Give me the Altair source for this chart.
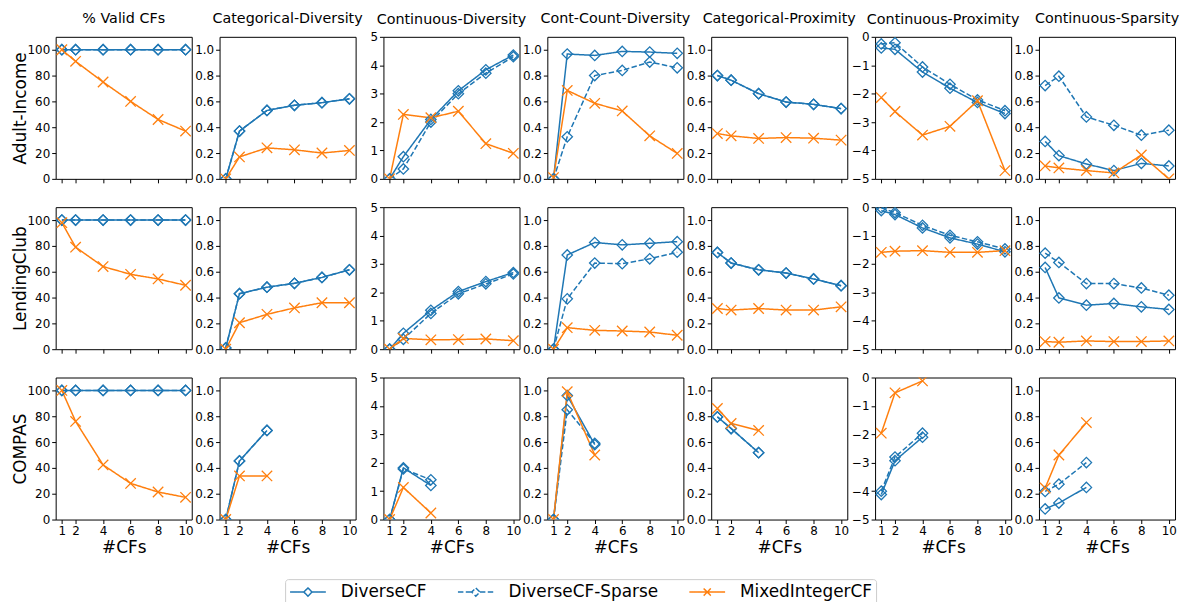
import altair as alt
import pandas as pd

methods = ["DiverseCF", "DiverseCF-Sparse", "MixedIntegerCF"]
datasets = ["Adult-Income", "LendingClub", "COMPAS"]
metrics = ["% Valid CFs", "Categorical-Diversity", "Continuous-Diversity",
           "Cont-Count-Diversity", "Categorical-Proximity",
           "Continuous-Proximity", "Continuous-Sparsity"]
num_cfs = [1, 2, 4, 6, 8, 10]
num_cfs_compas = [1, 2, 4]

# ---- Adult-Income ----
adult_diverse = {
    "% Valid CFs": [100, 100, 100, 100, 100, 100],
    "Categorical-Diversity": [0.0, 0.37, 0.53, 0.57, 0.59, 0.62],
    "Continuous-Diversity": [0.0, 0.78, 2.09, 3.1, 3.84, 4.36],
    "Cont-Count-Diversity": [0.0, 0.967, 0.956, 0.987, 0.982, 0.972],
    "Categorical-Proximity": [0.80, 0.764, 0.66, 0.595, 0.577, 0.544],
    "Continuous-Proximity": [-0.39, -0.44, -1.24, -1.81, -2.31, -2.7],
    "Continuous-Sparsity": [0.29, 0.18, 0.115, 0.064, 0.12, 0.10],
}
adult_sparse = {
    "% Valid CFs": [100, 100, 100, 100, 100, 100],
    "Categorical-Diversity": [0.0, 0.37, 0.53, 0.57, 0.59, 0.62],
    "Continuous-Diversity": [0.0, 0.35, 2.0, 3.0, 3.72, 4.3],
    "Cont-Count-Diversity": [0.0, 0.326, 0.80, 0.84, 0.905, 0.86],
    "Categorical-Proximity": [0.80, 0.764, 0.66, 0.595, 0.577, 0.544],
    "Continuous-Proximity": [-0.25, -0.21, -1.06, -1.67, -2.22, -2.6],
    "Continuous-Sparsity": [0.723, 0.795, 0.48, 0.415, 0.338, 0.377],
}
adult_mip = {
    "% Valid CFs": [100, 91, 75, 60, 46, 37],
    "Categorical-Diversity": [0.0, 0.17, 0.24, 0.225, 0.20, 0.22],
    "Continuous-Diversity": [0.0, 2.27, 2.15, 2.38, 1.24, 0.9],
    "Cont-Count-Diversity": [0.01, 0.685, 0.585, 0.526, 0.333, 0.197],
    "Categorical-Proximity": [0.351, 0.333, 0.313, 0.32, 0.315, 0.30],
    "Continuous-Proximity": [-2.14, -2.63, -3.46, -3.15, -2.25, -4.71],
    "Continuous-Sparsity": [0.10, 0.085, 0.064, 0.046, 0.185, 0.0],
}

# ---- LendingClub ----
lending_diverse = {
    "% Valid CFs": [100, 100, 100, 100, 100, 100],
    "Categorical-Diversity": [0.01, 0.43, 0.48, 0.51, 0.556, 0.615],
    "Continuous-Diversity": [0.0, 0.56, 1.37, 2.03, 2.38, 2.7],
    "Cont-Count-Diversity": [0.0, 0.73, 0.826, 0.808, 0.82, 0.833],
    "Categorical-Proximity": [0.749, 0.667, 0.615, 0.59, 0.544, 0.492],
    "Continuous-Proximity": [-0.12, -0.26, -0.73, -1.08, -1.30, -1.57],
    "Continuous-Sparsity": [0.633, 0.397, 0.341, 0.354, 0.328, 0.308],
}
lending_sparse = {
    "% Valid CFs": [100, 100, 100, 100, 100, 100],
    "Categorical-Diversity": [0.01, 0.43, 0.48, 0.51, 0.556, 0.615],
    "Continuous-Diversity": [0.0, 0.35, 1.26, 1.95, 2.3, 2.65],
    "Cont-Count-Diversity": [0.0, 0.39, 0.667, 0.662, 0.70, 0.751],
    "Categorical-Proximity": [0.749, 0.667, 0.615, 0.59, 0.544, 0.492],
    "Continuous-Proximity": [-0.02, -0.19, -0.64, -0.99, -1.22, -1.47],
    "Continuous-Sparsity": [0.744, 0.672, 0.508, 0.508, 0.474, 0.418],
}
lending_mip = {
    "% Valid CFs": [98, 79, 64, 58, 54.4, 49.5],
    "Categorical-Diversity": [0.0, 0.205, 0.27, 0.32, 0.36, 0.36],
    "Continuous-Diversity": [0.0, 0.38, 0.33, 0.34, 0.36, 0.30],
    "Cont-Count-Diversity": [0.0, 0.167, 0.146, 0.141, 0.133, 0.108],
    "Categorical-Proximity": [0.315, 0.303, 0.315, 0.303, 0.303, 0.328],
    "Continuous-Proximity": [-1.59, -1.55, -1.53, -1.59, -1.59, -1.53],
    "Continuous-Sparsity": [0.059, 0.054, 0.064, 0.059, 0.059, 0.064],
}

# ---- COMPAS ----
compas_diverse = {
    "% Valid CFs": [100, 100, 100, 100, 100, 100],
    "Categorical-Diversity": [0.0, 0.454, 0.69],
    "Continuous-Diversity": [0.0, 1.82, 1.2],
    "Cont-Count-Diversity": [0.0, 0.96, 0.58],
    "Categorical-Proximity": [0.795, 0.705, 0.518],
    "Continuous-Proximity": [-4.12, -2.93, -2.10],
    "Continuous-Sparsity": [0.082, 0.128, 0.249],
}
compas_sparse = {
    "% Valid CFs": [100, 100, 100, 100, 100, 100],
    "Categorical-Diversity": [0.0, 0.454, 0.69],
    "Continuous-Diversity": [0.0, 1.78, 1.4],
    "Cont-Count-Diversity": [0.0, 0.85, 0.59],
    "Categorical-Proximity": [0.795, 0.705, 0.518],
    "Continuous-Proximity": [-4.0, -2.8, -1.96],
    "Continuous-Sparsity": [0.218, 0.274, 0.441],
}
compas_mip = {
    "% Valid CFs": [100, 76, 42.3, 28, 21.3, 17.2],
    "Categorical-Diversity": [0.0, 0.338, 0.338],
    "Continuous-Diversity": [0.0, 1.13, 0.23],
    "Cont-Count-Diversity": [0.0, 0.99, 0.50],
    "Categorical-Proximity": [0.86, 0.744, 0.69],
    "Continuous-Proximity": [-1.96, -0.54, -0.12],
    "Continuous-Sparsity": [0.244, 0.5, 0.751],
}

results = {
    "Adult-Income": [adult_diverse, adult_sparse, adult_mip],
    "LendingClub": [lending_diverse, lending_sparse, lending_mip],
    "COMPAS": [compas_diverse, compas_sparse, compas_mip],
}

y_domains = {
    "% Valid CFs": [0, 110],
    "Categorical-Diversity": [0, 1.1],
    "Continuous-Diversity": [0, 5],
    "Cont-Count-Diversity": [0, 1.1],
    "Categorical-Proximity": [0, 1.1],
    "Continuous-Proximity": [-5, 0],
    "Continuous-Sparsity": [0, 1.1],
}
y_ticks = {
    "% Valid CFs": [0, 20, 40, 60, 80, 100],
    "Categorical-Diversity": [0, 0.2, 0.4, 0.6, 0.8, 1.0],
    "Continuous-Diversity": [0, 1, 2, 3, 4, 5],
    "Cont-Count-Diversity": [0, 0.2, 0.4, 0.6, 0.8, 1.0],
    "Categorical-Proximity": [0, 0.2, 0.4, 0.6, 0.8, 1.0],
    "Continuous-Proximity": [-5, -4, -3, -2, -1, 0],
    "Continuous-Sparsity": [0, 0.2, 0.4, 0.6, 0.8, 1.0],
}
y_formats = {
    "% Valid CFs": "d",
    "Categorical-Diversity": ".1f",
    "Continuous-Diversity": "d",
    "Cont-Count-Diversity": ".1f",
    "Categorical-Proximity": ".1f",
    "Continuous-Proximity": "d",
    "Continuous-Sparsity": ".1f",
}

colors = ["#1f77b4", "#1f77b4", "#ff7f0e"]
dashes = [[1, 0], [5.5, 2.4], [1, 0]]
X_PATH = "M-1,-1L1,1M-1,1L1,-1"
LEG_DIAMOND = "M-1,0L-0.23,0M0.23,0L1,0M0,-0.23L0.23,0L0,0.23L-0.23,0Z"
LEG_X = "M-1,0L1,0M-0.2,-0.2L0.2,0.2M-0.2,0.2L0.2,-0.2"

rows = []
for ds in datasets:
    for m, table in zip(methods, results[ds]):
        for metric in metrics:
            vals = table[metric]
            xs = num_cfs if len(vals) == len(num_cfs) else num_cfs_compas
            for xv, v in zip(xs, vals):
                rows.append({"dataset": ds, "metric": metric, "method": m,
                             "x": xv, "value": v})
df = pd.DataFrame(rows)

legend_df = pd.DataFrame({"method": methods, "x": [-50] * 3, "value": [0] * 3})

W, H = 137, 143
x_scale = alt.Scale(domain=[0.55, 10.45], nice=False, zero=False)


def make_panel(r, c):
    ds, metric = datasets[r], metrics[c]
    sub = df[(df.dataset == ds) & (df.metric == metric)]
    x_axis = alt.Axis(values=num_cfs, labels=(r == 2),
                      title="#CFs" if r == 2 else None, labelFlush=False,
                      labelOverlap=False, titlePadding=3)
    y_kw = dict(values=y_ticks[metric], format=y_formats[metric], labelOverlap=False)
    if c == 0:
        y_kw.update(title=ds, titlePadding=0, minExtent=26, maxExtent=26)
    else:
        y_kw.update(title=None)
    y_axis = alt.Axis(**y_kw)
    x = alt.X("x:Q", scale=x_scale, axis=x_axis)
    y = alt.Y("value:Q", scale=alt.Scale(domain=y_domains[metric], nice=False,
                                         zero=False), axis=y_axis)
    color = alt.Color("method:N", scale=alt.Scale(domain=methods, range=colors),
                      legend=None)
    base = alt.Chart(sub)
    lines = base.mark_line(strokeWidth=1.5, clip=True).encode(
        x=x, y=y, color=color,
        strokeDash=alt.StrokeDash("method:N", scale=alt.Scale(domain=methods, range=dashes),
                                  legend=None),
    )
    points = base.mark_point(filled=False, strokeWidth=1.3, size=110, clip=True,
                             opacity=1).encode(
        x=x, y=y, color=color,
        shape=alt.Shape("method:N", scale=alt.Scale(
            domain=methods, range=["diamond", "diamond", X_PATH]), legend=None),
    )
    layers = [lines, points]
    if r == 2 and c == 0:
        # invisible carrier (clipped, outside the x domain) for the shared legend
        leg = alt.Chart(legend_df).mark_point(
            filled=False, size=1296, strokeWidth=1.5, clip=True, opacity=1
        ).encode(
            x=x, y=y,
            color=alt.Color("method:N", scale=alt.Scale(domain=methods, range=colors),
                            legend=alt.Legend(title=None)),
            shape=alt.Shape("method:N", scale=alt.Scale(
                domain=methods, range=[LEG_DIAMOND, LEG_DIAMOND, LEG_X]),
                legend=alt.Legend(title=None)),
            strokeDash=alt.StrokeDash("method:N", scale=alt.Scale(domain=methods, range=dashes),
                                      legend=alt.Legend(title=None)),
        )
        layers.append(leg)
    ch = alt.layer(*layers).resolve_scale(
        color="independent", shape="independent", strokeDash="independent"
    )
    props = {"width": W, "height": H}
    if r == 0:
        # the top tick label sticks out above the frame when the top tick is the
        # domain maximum, so the title offset is reduced for those panels
        top_at_max = y_ticks[metric][-1] == y_domains[metric][1]
        props["title"] = alt.TitleParams(metric, fontSize=14.4, fontWeight="normal",
                                         color="black", offset=4 if top_at_max else 11)
    return ch.properties(**props)


panels = [make_panel(r, c) for r in range(3) for c in range(7)]

chart = alt.concat(
    *panels, columns=7, spacing={"row": 28.5, "column": 28}, bounds="flush"
).resolve_scale(
    color="independent", shape="independent", strokeDash="independent"
).properties(
    padding={"left": 3, "top": 0, "right": 0, "bottom": -6}
).configure(
    font="DejaVu Sans"
).configure_view(
    stroke="black", strokeWidth=1
).configure_axis(
    grid=False, domain=False, tickColor="black", tickSize=4, tickWidth=1,
    labelColor="black", labelFontSize=12, labelFont="DejaVu Sans", labelPadding=2,
    titleColor="black", titleFont="DejaVu Sans", titleFontWeight="normal",
    titleFontSize=17
).configure_legend(
    orient="none", legendX=231, legendY=203, direction="horizontal",
    labelFontSize=17, labelFont="DejaVu Sans", labelColor="black",
    labelOffset=14, symbolSize=1296, symbolStrokeWidth=1.5,
    strokeColor="#cccccc", fillColor="white", cornerRadius=3, padding=4,
    columnPadding=30, clipHeight=18
).configure_title(
    font="DejaVu Sans", color="black"
)

chart.save("out.html", embed_options={"renderer": "svg", "actions": False})
